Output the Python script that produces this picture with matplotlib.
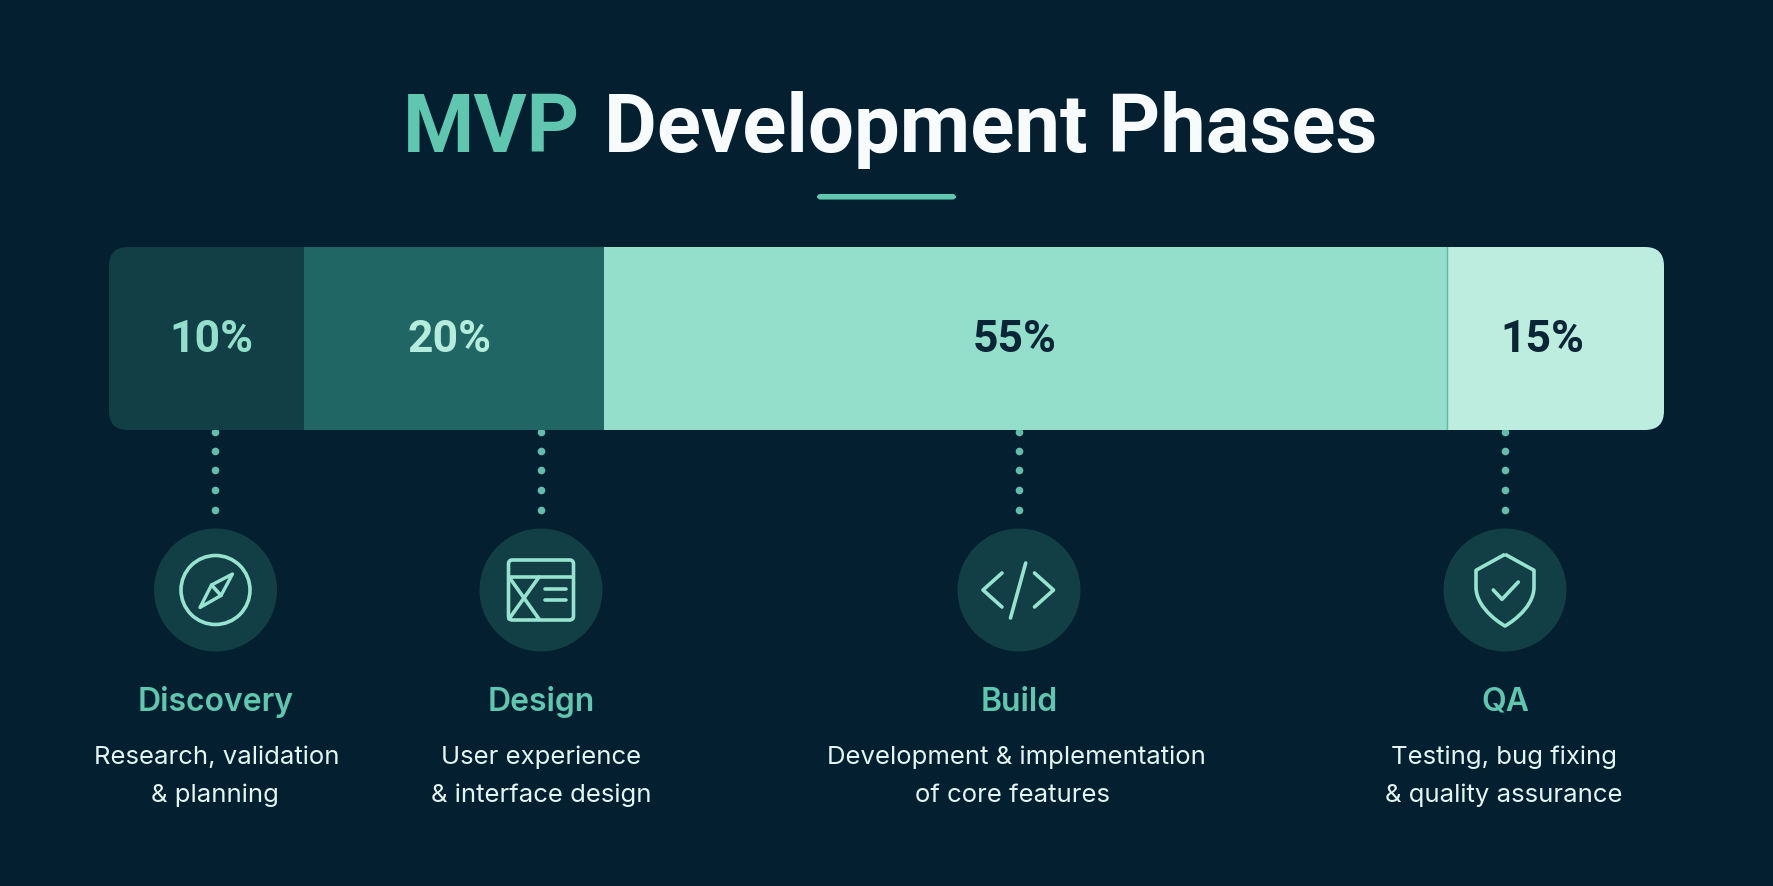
from matplotlib import pyplot as plt
from matplotlib.patches import Circle, FancyBboxPatch, PathPatch, Polygon
from matplotlib.path import Path
import numpy as np

phases = ['Discovery', 'Design', 'Build', 'QA']
percent_labels = ['10%', '20%', '55%', '15%']
# the bar in the picture is not drawn to scale, these are the shares as measured
bar_shares = [12.57, 19.29, 54.18, 13.96]
descriptions = ['Research, validation\n& planning',
                'User experience\n& interface design',
                'Development & implementation\nof core features',
                'Testing, bug fixing\n& quality assurance']

BG = '#031f30'
TEAL = '#5fc7af'
MINT = '#98e3d0'
CIRCLE = '#123f45'
segment_colors = ['#123f45', '#206665', '#93dfcb', '#bcedde']
percent_colors = ['#93dfcb', '#b5eddc', '#0a2535', '#0a2535']
percent_x = [211, 449.5, 1015, 1542]
phase_x = [215.5, 541, 1019, 1505]
# description lines are not quite centred under the Build circle
desc_shift = [[1, -1], [0, 0], [-3, -6], [-1, -1]]

W, H = 1774, 887
plt.rcParams['font.family'] = ['Inter', 'DejaVu Sans']

fig = plt.figure(figsize=(W / 100, H / 100), dpi=100, facecolor=BG)

# full figure axes in pixel coordinates, y going down
ax = fig.add_axes([0, 0, 1, 1])
ax.set_xlim(0, W)
ax.set_ylim(H, 0)
ax.axis('off')

# title, two colours so the pieces sit at their own x
title_font = dict(family=['Roboto', 'DejaVu Sans'], fontsize=58.7, fontweight='bold', va='baseline', ha='left')
ax.text(403, 152, 'MVP', color=TEAL, **title_font)
ax.text(604, 152, 'Development Phases', color='#f8fbfb', **title_font)

# underline
ax.add_patch(FancyBboxPatch((818, 196), 137, 3.5, boxstyle='round,pad=0,rounding_size=2.5',
                            fc=TEAL, ec=TEAL, lw=1.5))

# stacked bar in its own axes
bar_left, bar_right, bar_top, bar_bottom = 109, 1664, 248, 431
ax_bar = fig.add_axes([bar_left / W, 1 - bar_bottom / H, (bar_right - bar_left) / W, (bar_bottom - bar_top) / H])
ax_bar.set_xlim(0, sum(bar_shares))
ax_bar.set_ylim(0, 1)
ax_bar.axis('off')
clip = FancyBboxPatch((bar_left, bar_top), bar_right - bar_left, bar_bottom - bar_top,
                      boxstyle='round,pad=0,rounding_size=19', transform=ax.transData, fc='none', ec='none')
ax.add_patch(clip)
lefts = np.cumsum([0] + bar_shares[:-1])
bars = ax_bar.barh(0.5, bar_shares, left=lefts, height=1, color=segment_colors, linewidth=0)
for b in bars:
    b.set_clip_path(clip)
ax_bar.axvline(lefts[3], color='#5fb8a5', lw=1)

for x, label, c in zip(percent_x, percent_labels, percent_colors):
    fig.text(x / W, 1 - 352.5 / H, label, color=c, fontsize=32, fontweight='bold',
             family=['Roboto', 'DejaVu Sans'], ha='center', va='baseline')

# dotted connectors, circles and text under the bar
dot_y = [433, 451.5, 471, 490.5, 511]
for x, name, desc, shift in zip(phase_x, phases, descriptions, desc_shift):
    ax.plot([x] * len(dot_y), dot_y, 'o', color='#63bdaa', ms=5.5, mew=0, zorder=3)
    ax.add_patch(Circle((x, 591), 61.5, fc=CIRCLE, ec='none'))
    ax.text(x, 711, name, color=TEAL, fontsize=23, fontweight='semibold', ha='center', va='baseline')
    line1, line2 = desc.split('\n')
    ax.text(x + shift[0], 764, line1, color='#e2f5f0', fontsize=18.5, ha='center', va='baseline')
    ax.text(x + shift[1], 802, line2, color='#e2f5f0', fontsize=18.5, ha='center', va='baseline')

icon = dict(color=MINT, lw=2.6, solid_capstyle='round', solid_joinstyle='round')

# compass
cx, cy = phase_x[0], 591
ax.add_patch(Circle((cx, cy), 34.5, fc='none', ec=MINT, lw=2.6))
ax.add_patch(Polygon([(cx + 17, cy - 16), (cx - 4, cy - 5), (cx - 15.5, cy + 17.5), (cx + 5.5, cy + 5.5)],
                     closed=True, fc='none', ec=MINT, lw=2.4, joinstyle='round'))
ax.plot([cx - 4, cx + 5.5], [cy - 5, cy + 5.5], **icon)

# layout window
cx = phase_x[1]
ax.add_patch(FancyBboxPatch((cx - 32.5, cy - 30), 65, 60, boxstyle='round,pad=0,rounding_size=4',
                            fc='none', ec=MINT, lw=2.6))
ax.plot([cx - 32, cx + 32], [cy - 13, cy - 13], color=MINT, lw=2.6, solid_capstyle='butt')
ax.plot([cx - 32, cx - 2], [cy - 13, cy + 29], **icon)
ax.plot([cx - 2, cx - 32], [cy - 13, cy + 29], **icon)
ax.plot([cx + 4.5, cx + 25], [cy - 1, cy - 1], **icon)
ax.plot([cx + 4.5, cx + 25], [cy + 9.5, cy + 9.5], **icon)

# code brackets
cx = phase_x[2]
ax.plot([cx - 17, cx - 36, cx - 17], [cy - 17, cy, cy + 17], **icon)
ax.plot([cx + 15.5, cx + 34.5, cx + 15.5], [cy - 17, cy, cy + 17], **icon)
ax.plot([cx + 6.7, cx - 8.5], [cy - 27, cy + 28], **icon)

# shield with check
cx = phase_x[3]
shield = Path([(cx, cy - 35.7), (cx + 29, cy - 19.7), (cx + 29, cy - 3),
               (cx + 29, cy + 20), (cx, cy + 36), (cx, cy + 36),
               (cx, cy + 36), (cx - 29, cy + 20), (cx - 29, cy - 3),
               (cx - 29, cy - 19.7), (cx, cy - 35.7)],
              [Path.MOVETO, Path.LINETO, Path.LINETO,
               Path.CURVE4, Path.CURVE4, Path.CURVE4,
               Path.CURVE4, Path.CURVE4, Path.CURVE4,
               Path.LINETO, Path.LINETO])
ax.add_patch(PathPatch(shield, fc='none', ec=MINT, lw=2.6, joinstyle='round'))
ax.plot([cx - 11.7, cx - 3, cx + 13.3], [cy, cy + 9.3, cy - 8], **icon)

fig.savefig('out.png', dpi=100, facecolor=BG)
